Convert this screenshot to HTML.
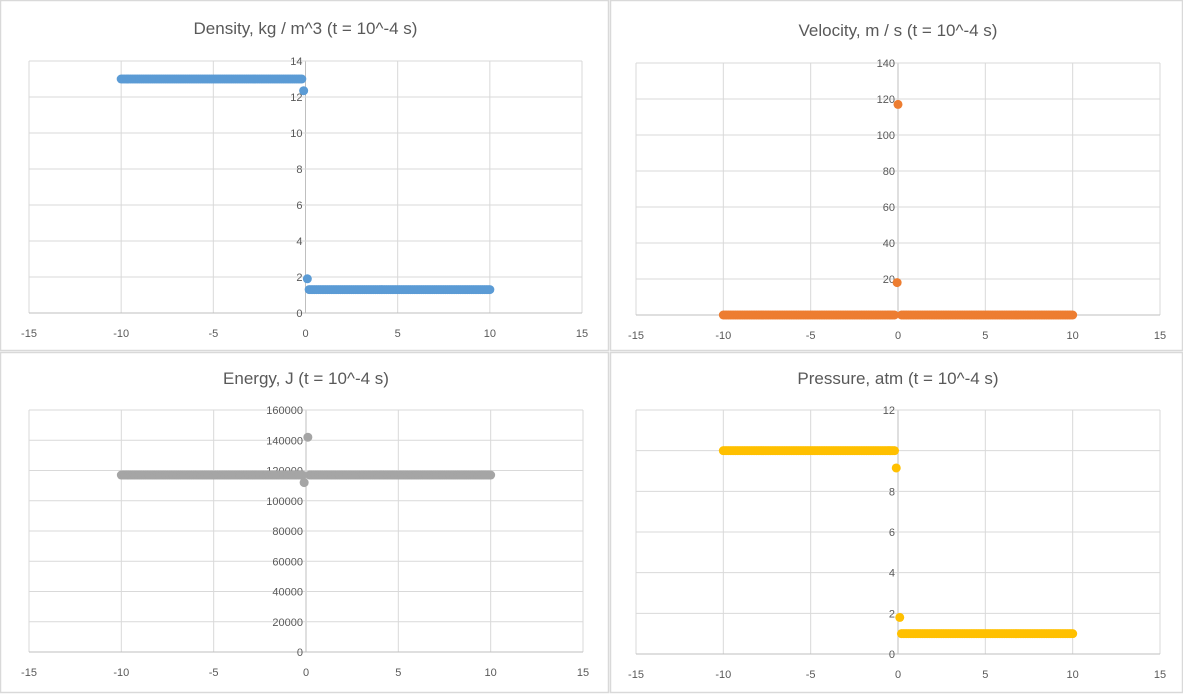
<!DOCTYPE html>
<html><head><meta charset="utf-8"><style>
html,body{margin:0;padding:0;background:#fff;width:1183px;height:694px;overflow:hidden}
svg{display:block;font-family:"Liberation Sans",sans-serif}
</style></head><body>
<svg id="root" width="1183" height="694"></svg>
<script>
// shared x samples (categories)
const xStart = -10, xEnd = 10, xStep = 0.1;
const xTicks = [-15,-10,-5,0,5,10,15];
// density
const densityLeft = 13, densityRight = 1.3;
const densitySpecialX = [-0.1, 0.1], densitySpecialY = [12.35, 1.9];
const densityTicks = [0,2,4,6,8,10,12,14];
// velocity
const velocityLeft = 0, velocityRight = 0;
const velocitySpecialX = [0, -0.05], velocitySpecialY = [117, 18];
const velocityTicks = [0,20,40,60,80,100,120,140];
// energy
const energyLeft = 117000, energyRight = 117000;
const energySpecialX = [0.1, -0.1], energySpecialY = [142000, 112000];
const energyTicks = [0,20000,40000,60000,80000,100000,120000,140000,160000];
// pressure
const pressureLeft = 10, pressureRight = 1.0;
const pressureSpecialX = [-0.1, 0.1], pressureSpecialY = [9.15, 1.8];
const pressureTicks = [0,2,4,6,8,10,12];

const NS = "http://www.w3.org/2000/svg";
const root = document.getElementById('root');
function mk(tag, attrs, parent){const e=document.createElementNS(NS,tag);for(const k in attrs)e.setAttribute(k,attrs[k]);parent.appendChild(e);return e;}

function chart(cfg){
  const g = mk('g',{},root);
  
  
  const bg = mk('rect',{x:cfg.px+0.5,y:cfg.py+0.5,width:cfg.pw-1,height:cfg.ph-1,fill:'#fff',stroke:'#d9d9d9','stroke-width':1.5},g);
  
  
  const t = mk('text',{x:(cfg.L+cfg.R)/2,y:cfg.ty,'text-anchor':'middle','font-size':17,fill:'#595959'},g);
  t.textContent = cfg.title;
  
  
  const yMax = cfg.yTicks[cfg.yTicks.length-1];
  const sx = v => cfg.L + (v + 15) / 30 * (cfg.R - cfg.L);
  const sy = v => cfg.B - v / yMax * (cfg.B - cfg.T);
  xTicks.forEach(v=>{
    const l = mk('line',{x1:sx(v),x2:sx(v),y1:cfg.T,y2:cfg.B,stroke:v===0?'#bfbfbf':'#d9d9d9','stroke-width':1},g);
    
    
    const lb = mk('text',{x:sx(v),y:cfg.B+24,'text-anchor':'middle','font-size':11,fill:'#595959'},g);
    lb.textContent = v;
    
    
  });
  cfg.yTicks.forEach(v=>{
    const l = mk('line',{x1:cfg.L,x2:cfg.R,y1:sy(v),y2:sy(v),stroke:v===0?'#bfbfbf':'#d9d9d9','stroke-width':1},g);
    
    
    const lb = mk('text',{x:sx(0)-3,y:sy(v)+4,'text-anchor':'end','font-size':11,fill:'#595959'},g);
    lb.textContent = v;
    
    
  });
  const n = Math.round((xEnd - xStart)/xStep);
  for(let i=0;i<=n;i++){
    const x = xStart + i*xStep;
    if (Math.abs(x) < 0.15) continue;
    const y = x < 0 ? cfg.left : cfg.right;
    const c = mk('circle',{cx:sx(x),cy:sy(y),r:4.5,fill:cfg.color},g);
    
    
  }
  cfg.sx2.forEach((x,i)=>{
    const c = mk('circle',{cx:sx(x),cy:sy(cfg.sy2[i]),r:4.5,fill:cfg.color},g);
    
    
  });
}
chart({name:'density-chart',title:'Density, kg / m^3 (t = 10^-4 s)',px:0,py:0,pw:609,ph:351,L:29,R:582,T:61,B:313,ty:34,yTicks:densityTicks,left:densityLeft,right:densityRight,sx2:densitySpecialX,sy2:densitySpecialY,color:'#5b9bd5'});
chart({name:'velocity-chart',title:'Velocity, m / s (t = 10^-4 s)',px:610,py:0,pw:573,ph:351,L:636,R:1160,T:63,B:315,ty:36,yTicks:velocityTicks,left:velocityLeft,right:velocityRight,sx2:velocitySpecialX,sy2:velocitySpecialY,color:'#ed7d31'});
chart({name:'energy-chart',title:'Energy, J (t = 10^-4 s)',px:0,py:352,pw:609,ph:341,L:29,R:583,T:410,B:652,ty:384,yTicks:energyTicks,left:energyLeft,right:energyRight,sx2:energySpecialX,sy2:energySpecialY,color:'#a5a5a5'});
chart({name:'pressure-chart',title:'Pressure, atm (t = 10^-4 s)',px:610,py:352,pw:573,ph:341,L:636,R:1160,T:410,B:654,ty:384,yTicks:pressureTicks,left:pressureLeft,right:pressureRight,sx2:pressureSpecialX,sy2:pressureSpecialY,color:'#ffc000'});
</script>
</body></html>
